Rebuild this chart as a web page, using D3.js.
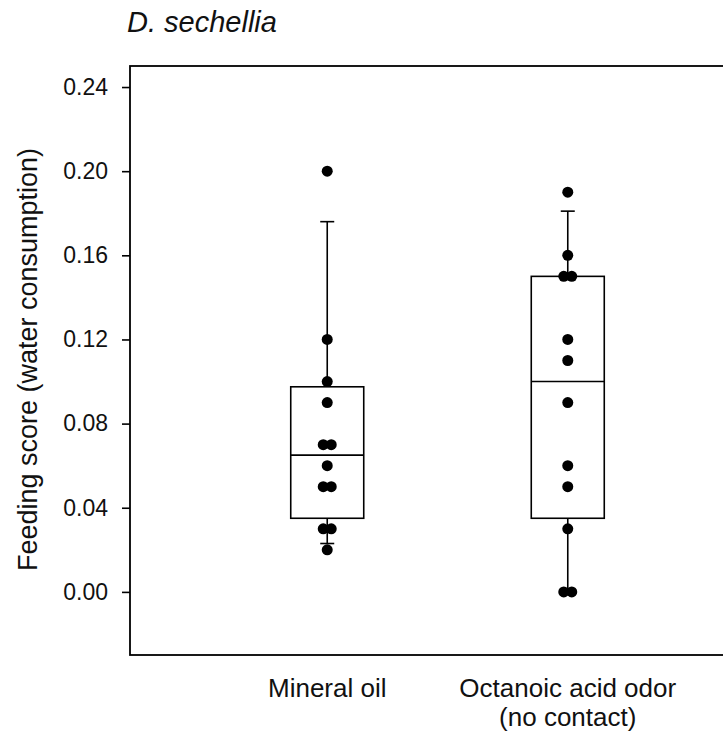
<!DOCTYPE html>
<html>
<head>
<meta charset="utf-8">
<script src="https://cdn.jsdelivr.net/npm/d3@7"></script>
<style>
  html, body { margin: 0; padding: 0; background: #fff; }
  svg { display: block; font-family: Arial, "Liberation Sans", sans-serif; }
</style>
</head>
<body>
<div id="chart"></div>
<script>
// data
var categories = ['Mineral oil', 'Octanoic acid odor'];
var categoryLines = [['Mineral oil'], ['Octanoic acid odor', '(no contact)']];
var mineralOil = [0.20, 0.12, 0.10, 0.09, 0.07, 0.07, 0.06, 0.05, 0.05, 0.03, 0.03, 0.02];
var octanoicAcid = [0.19, 0.16, 0.15, 0.15, 0.12, 0.11, 0.09, 0.06, 0.05, 0.03, 0.00, 0.00];
var yTicks = [0.00, 0.04, 0.08, 0.12, 0.16, 0.20, 0.24];
var title = 'D. sechellia';
var yLabel = 'Feeding score (water consumption)';

var width = 723, height = 735;
var plot = { left: 130, right: 765, top: 66, bottom: 655 };

var svg = d3.select('#chart').append('svg')
  .attr('width', width)
  .attr('height', height);

var x = d3.scalePoint()
  .domain(categories)
  .range([plot.left, plot.right])
  .padding(0.82);

var y = d3.scaleLinear()
  .domain([-0.03, 0.25])
  .range([plot.bottom, plot.top]);

// percentile at position p*(n+1), like SigmaPlot
function pct(sorted, p) {
  var n = sorted.length;
  var pos = p * (n + 1);
  if (pos <= 1) return sorted[0];
  if (pos >= n) return sorted[n - 1];
  var lo = Math.floor(pos);
  return sorted[lo - 1] + (pos - lo) * (sorted[lo] - sorted[lo - 1]);
}

var groups = [mineralOil, octanoicAcid].map(function (vals, i) {
  var s = vals.slice().sort(d3.ascending);
  return {
    cat: categories[i],
    values: vals,
    p10: pct(s, 0.10),
    q1: pct(s, 0.25),
    med: pct(s, 0.50),
    q3: pct(s, 0.75),
    p90: pct(s, 0.90)
  };
});

var boxHalf = 36.5, capHalf = 7, dotR = 5.5, dotGap = 8;
var stroke = '#000', lw = 1.6;

// frame
svg.append('rect')
  .attr('x', plot.left)
  .attr('y', plot.top)
  .attr('width', plot.right - plot.left)
  .attr('height', plot.bottom - plot.top)
  .attr('fill', 'none')
  .attr('stroke', stroke)
  .attr('stroke-width', 1.8);

// y axis
var yAxis = svg.append('g')
  .attr('transform', 'translate(' + plot.left + ',0)')
  .call(d3.axisLeft(y).tickValues(yTicks).tickFormat(d3.format('.2f')).tickSize(8).tickPadding(14));
yAxis.select('.domain').remove();
yAxis.selectAll('.tick line').attr('stroke', stroke).attr('stroke-width', lw);
yAxis.selectAll('.tick text')
  .attr('fill', '#111')
  .style('font-size', '23px')
  .style('font-family', 'Arial, "Liberation Sans", sans-serif');

// boxes
var g = svg.selectAll('.box').data(groups).enter().append('g').attr('class', 'box');

g.append('line')
  .attr('x1', function (d) { return x(d.cat); })
  .attr('x2', function (d) { return x(d.cat); })
  .attr('y1', function (d) { return y(d.q3); })
  .attr('y2', function (d) { return y(d.p90); });
g.append('line')
  .attr('x1', function (d) { return x(d.cat); })
  .attr('x2', function (d) { return x(d.cat); })
  .attr('y1', function (d) { return y(d.q1); })
  .attr('y2', function (d) { return y(d.p10); });
g.append('line')
  .attr('x1', function (d) { return x(d.cat) - capHalf; })
  .attr('x2', function (d) { return x(d.cat) + capHalf; })
  .attr('y1', function (d) { return y(d.p90); })
  .attr('y2', function (d) { return y(d.p90); });
g.append('line')
  .attr('x1', function (d) { return x(d.cat) - capHalf; })
  .attr('x2', function (d) { return x(d.cat) + capHalf; })
  .attr('y1', function (d) { return y(d.p10); })
  .attr('y2', function (d) { return y(d.p10); });
g.append('rect')
  .attr('x', function (d) { return x(d.cat) - boxHalf; })
  .attr('y', function (d) { return y(d.q3); })
  .attr('width', boxHalf * 2)
  .attr('height', function (d) { return y(d.q1) - y(d.q3); })
  .attr('fill', 'none');
g.append('line')
  .attr('x1', function (d) { return x(d.cat) - boxHalf; })
  .attr('x2', function (d) { return x(d.cat) + boxHalf; })
  .attr('y1', function (d) { return y(d.med); })
  .attr('y2', function (d) { return y(d.med); });
g.selectAll('line, rect').attr('stroke', stroke).attr('stroke-width', lw);

// points, equal values placed side by side
var points = [];
groups.forEach(function (grp) {
  var byVal = d3.group(grp.values, function (v) { return v; });
  byVal.forEach(function (arr, v) {
    arr.forEach(function (vv, i) {
      points.push({ cat: grp.cat, v: v, off: (i - (arr.length - 1) / 2) * dotGap });
    });
  });
});
svg.selectAll('.pt').data(points).enter().append('circle')
  .attr('class', 'pt')
  .attr('cx', function (d) { return x(d.cat) + d.off; })
  .attr('cy', function (d) { return y(d.v); })
  .attr('r', dotR)
  .attr('fill', '#000');

// category labels
var xl = svg.selectAll('.xlab').data(categories).enter().append('text')
  .attr('class', 'xlab')
  .attr('text-anchor', 'middle')
  .attr('fill', '#111')
  .style('font-size', '26px');
xl.each(function (d, i) {
  var t = d3.select(this);
  categoryLines[i].forEach(function (line, j) {
    t.append('tspan')
      .attr('x', x(d))
      .attr('y', 697 + j * 29)
      .text(line);
  });
});

// title
svg.append('text')
  .attr('x', 127)
  .attr('y', 32)
  .attr('fill', '#111')
  .style('font-size', '29px')
  .style('font-style', 'italic')
  .text(title);

// y label
svg.append('text')
  .attr('transform', 'translate(37,' + ((plot.top + plot.bottom) / 2 - 1) + ') rotate(-90)')
  .attr('text-anchor', 'middle')
  .attr('fill', '#111')
  .style('font-size', '27px')
  .text(yLabel);
</script>
</body>
</html>
